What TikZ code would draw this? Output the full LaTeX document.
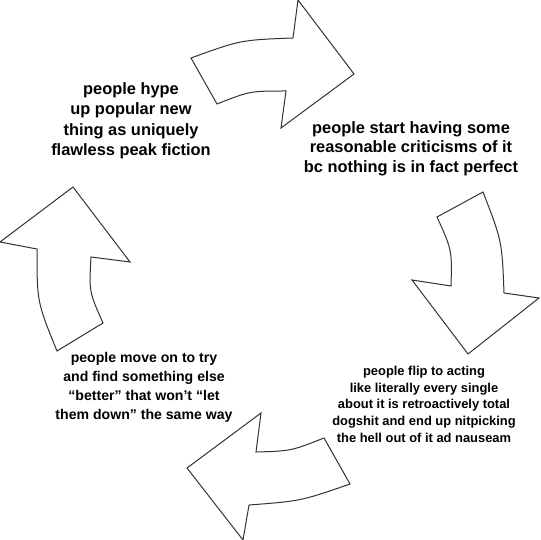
\documentclass[tikz,border=0pt]{standalone}
\usepackage{fontspec}
\setmainfont{Liberation Sans}
\begin{document}
\begin{tikzpicture}[x=1pt,y=-1pt,
  cyc/.style={draw=black!80, line width=1pt, fill=white, line join=miter},
  lbl/.style={align=center, inner sep=0pt, font=\bfseries}]
\useasboundingbox (0,0) rectangle (540,540);
% top arrow
\draw[cyc] (191,58) .. controls (240.5,40) .. (293,38) -- (298,0) -- (354,74)
  -- (281,128) -- (286,91) .. controls (250,91) .. (217,104) -- cycle;
% right arrow
\draw[cyc] (437,217) -- (483,192) .. controls (502,241) .. (504,293) -- (539,298)
  -- (468,354) -- (412,280) -- (451,286) .. controls (452,250) .. cycle;
% bottom arrow
\draw[cyc] (261,413) -- (256,452) .. controls (291,451) .. (324,438) -- (350,484)
  .. controls (301,501) .. (249,505) -- (243,540) -- (187,468) -- cycle;
% left arrow
\draw[cyc] (73,187) -- (130,262) -- (91,257) .. controls (89,291.5) .. (103,323)
  -- (57,351) .. controls (37,302) .. (37,249) -- (0,242) -- cycle;
% texts
\node[lbl, font=\bfseries\fontsize{16.4}{20.6}\selectfont] (t1) at (131,120.8)
  {people hype\\up popular new\\thing as uniquely\\flawless peak fiction};
\node[lbl, font=\bfseries\fontsize{16.4}{19.5}\selectfont] (t2) at (411,148.3)
  {people start having some\\reasonable criticisms of it\\bc nothing is in fact perfect};
\node[lbl, font=\bfseries\fontsize{12.9}{16.8}\selectfont] (t3) at (424,404.2)
  {people flip to acting\\like literally every single\\about it is retroactively total\\dogshit and end up nitpicking\\the hell out of it ad nauseam};
\node[lbl, font=\bfseries\fontsize{14.1}{18.7}\selectfont] (t4) at (144,387.4)
  {people move on to try\\and find something else\\“better” that won’t “let\\them down” the same way};
\end{tikzpicture}
\end{document}
